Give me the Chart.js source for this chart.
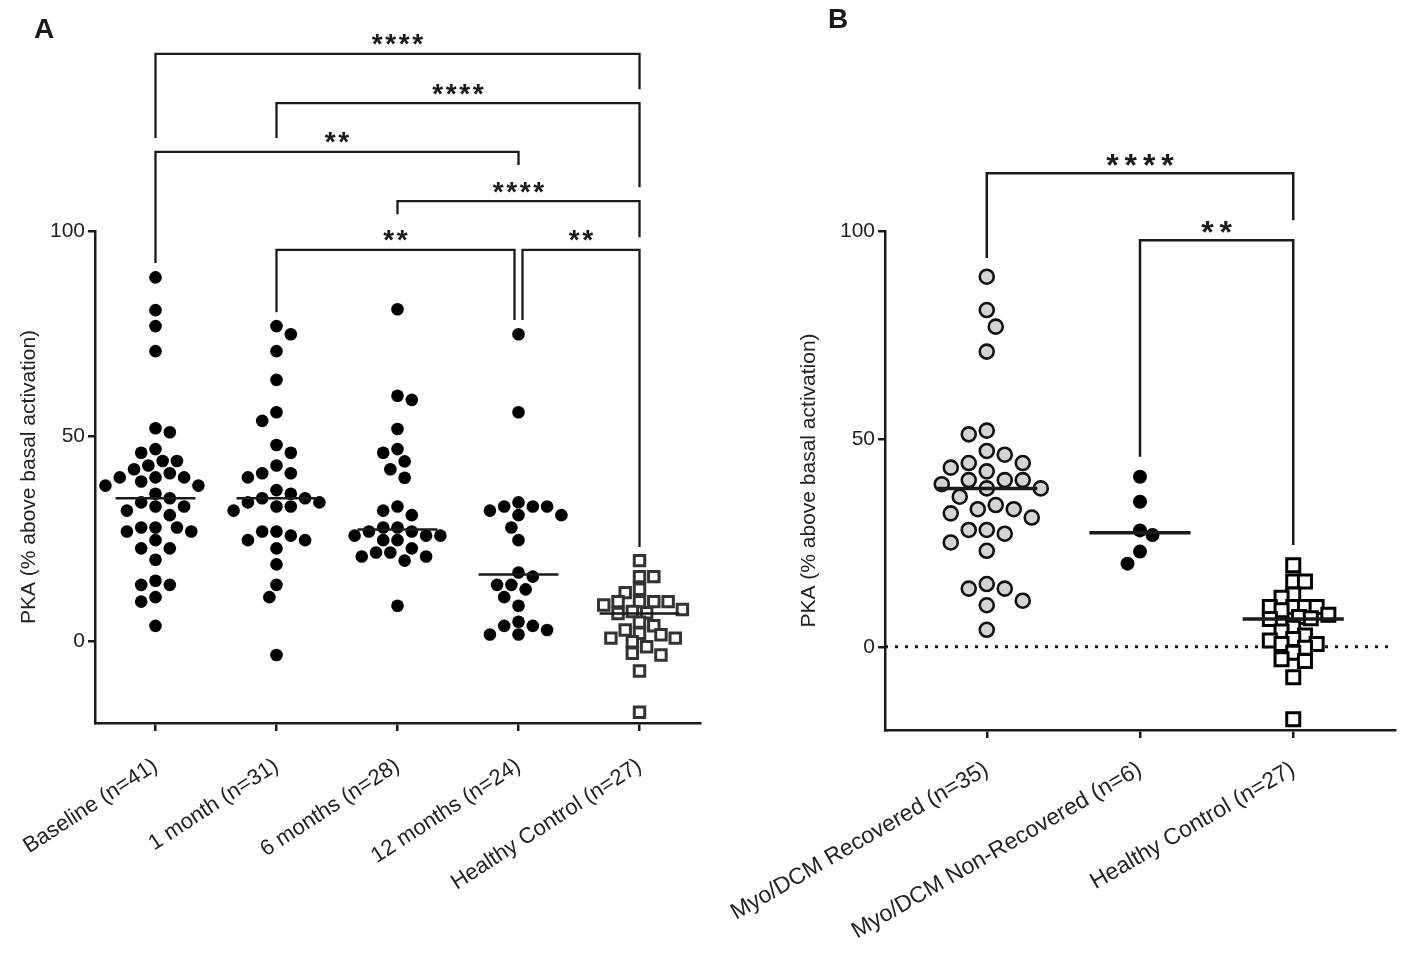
<!DOCTYPE html>
<html>
<head>
<meta charset="utf-8">
<script src="https://cdn.jsdelivr.net/npm/chart.js@4.4.1/dist/chart.umd.min.js"></script>
<style>
  html, body { margin: 0; padding: 0; background: #fff; width: 1418px; height: 957px; overflow: hidden; }
  #wrapA { position: absolute; left: 0; top: 0; width: 730px; height: 957px; }
  #wrapB { position: absolute; left: 700px; top: 0; width: 718px; height: 957px; }
  canvas { display: block; }
</style>
</head>
<body>
<div id="wrapA"><canvas id="cA" width="730" height="957" style="width:730px;height:957px"></canvas></div>
<div id="wrapB"><canvas id="cB" width="718" height="957" style="width:718px;height:957px"></canvas></div>
<script>
// ---------------- DATA ----------------
const categoriesA = ['Baseline (n=41)', '1 month (n=31)', '6 months (n=28)', '12 months (n=24)', 'Healthy Control (n=27)'];
const categoriesB = ['Myo/DCM Recovered (n=35)', 'Myo/DCM Non-Recovered (n=6)', 'Healthy Control (n=27)'];

const baseline = [88.7, 80.7, 76.8, 70.7, 51.9, 50.9, 46.8, 45.9, 42.8, 43.9, 43.9, 41.9, 39.9, 39.9, 40.9,
  38.9, 39.9, 37.9, 37.9, 35.9, 34.8, 33.8, 32.8, 31.8, 32.8, 30.7, 27.7, 26.7, 26.7, 27.7, 27.7, 24.6,
  22.6, 22.6, 19.8, 14.7, 13.7, 13.7, 10.7, 9.6, 3.7];
const month1 = [76.8, 74.8, 70.7, 63.7, 55.8, 53.7, 47.8, 45.9, 42.8, 40.9, 39.9, 40.9, 36.8, 34.8, 34.8,
  35.9, 33.8, 33.8, 32.8, 32.8, 31.8, 26.7, 26.7, 25.7, 24.6, 24.6, 22.6, 18.7, 13.7, 10.7, -3.4];
const month6 = [80.9, 59.8, 58.8, 51.7, 46.8, 45.9, 43.8, 41.9, 39.8, 32.8, 31.8, 30.7, 26.7, 27.7, 27.7,
  26.7, 24.6, 24.6, 25.7, 25.7, 25.7, 21.6, 20.6, 21.6, 22.6, 19.6, 20.6, 8.6];
const month12 = [74.8, 55.8, 32.8, 33.8, 32.8, 31.8, 32.8, 30.7, 30.7, 27.7, 24.6, 15.7, 16.7, 13.7, 12.6,
  13.7, 10.7, 8.6, 4.7, 1.6, 2.7, 3.7, 1.6, 3.7];
const healthyControl = [19.6, 15.7, 15.7, 12.6, 11.8, 9.6, 9.6, 9.6, 9.6, 8.8, 7.7, 7.2, 6.9, 6.7, 4.6,
  3.7, 2.7, 1.9, 1.5, 0.7, 0.7, -0.2, -1.4, -3.0, -3.4, -7.3, -17.4];
const recovered = [89.0, 81.0, 77.0, 71.0, 52.0, 51.1, 47.1, 46.2, 44.2, 44.2, 42.2, 43.1, 40.1, 40.1, 40.1,
  39.1, 38.1, 38.1, 36.1, 33.1, 34.1, 33.1, 32.1, 31.1, 28.1, 27.2, 28.1, 25.1, 23.1, 15.1, 14.0, 14.0,
  11.1, 10.0, 4.1];
const nonRecovered = [40.9, 34.9, 26.9, 28.0, 22.9, 20.0];

const yTicks = [0, 50, 100];
const yMin = -20, yMax = 100;

// significance brackets (group indices, bracket level and leg ends in y-axis units)
const bracketsA = [
  { a: 0, b: 4, level: 143.2, aEnd: 122.7, bEnd: 134.6, label: '****' },
  { a: 1, b: 4, level: 131.2, aEnd: 122.7, bEnd: 110.7, label: '****' },
  { a: 0, b: 3, level: 119.3, aEnd: 92.2, bEnd: 116.1, label: '**' },
  { a: 2, b: 4, level: 107.3, aEnd: 104.1, bEnd: 98.5, label: '****' },
  { a: 1, b: 3, level: 95.4, aEnd: 80.2, bEnd: 78.3, label: '**', bSide: -1 },
  { a: 3, b: 4, level: 95.4, aEnd: 78.3, bEnd: 22.9, label: '**', aSide: 1 }
];
const bracketsB = [
  { a: 0, b: 2, level: 113.9, aEnd: 93.5, bEnd: 102.6, label: '****' },
  { a: 1, b: 2, level: 97.8, aEnd: 45.7, bEnd: 24.5, label: '**' }
];

// ---------------- HELPERS ----------------
const FONT = '"Liberation Sans", Arial, Helvetica, sans-serif';
const INK = '#1a1a1a';

function median(arr) {
  const s = [...arr].sort((p, q) => p - q);
  const n = s.length;
  return n % 2 ? s[(n - 1) / 2] : (s[n / 2 - 1] + s[n / 2]) / 2;
}

// deterministic beeswarm layout computed in pixel space
function swarmOffsets(values, yScale, pxPerX, stepPx, minDist) {
  const order = values.map((v, i) => i).sort((p, q) => values[q] - values[p]);
  const placed = [];
  const off = new Array(values.length).fill(0);
  let balance = 0;
  for (const i of order) {
    const py = yScale.getPixelForValue(values[i]);
    let chosen = 0;
    outer:
    for (let m = 0; m < 100; m++) {
      const cands = m === 0 ? [0] : (balance > 0 ? [-m, m] : [m, -m]);
      for (const c of cands) {
        const px = c * stepPx / 2;
        if (placed.every(p => Math.hypot(p.px - px, p.py - py) >= minDist)) { chosen = px; break outer; }
      }
    }
    balance += Math.sign(chosen);
    placed.push({ px: chosen, py });
    off[i] = chosen / pxPerX;
  }
  return off;
}

function bracketPlugin(brackets, cfg) {
  return {
    id: 'brackets',
    afterDraw(chart) {
      const ctx = chart.ctx, xs = chart.scales.x, ys = chart.scales.y;
      ctx.save();
      ctx.strokeStyle = INK;
      ctx.fillStyle = INK;
      ctx.lineWidth = cfg.lineWidth;
      ctx.lineJoin = 'miter';
      for (const b of brackets) {
        const xa = xs.getPixelForValue(b.a) + (b.aSide || 0) * cfg.nudge;
        const xb = xs.getPixelForValue(b.b) + (b.bSide || 0) * cfg.nudge;
        const yl = ys.getPixelForValue(b.level);
        ctx.beginPath();
        ctx.moveTo(xa, ys.getPixelForValue(b.aEnd));
        ctx.lineTo(xa, yl);
        ctx.lineTo(xb, yl);
        ctx.lineTo(xb, ys.getPixelForValue(b.bEnd));
        ctx.stroke();
        ctx.font = 'bold ' + cfg.starSize + 'px ' + FONT;
        ctx.textAlign = 'center';
        ctx.textBaseline = 'alphabetic';
        const n = b.label.length, mid = (xa + xb) / 2;
        const base = yl - cfg.starAbove + 0.553 * cfg.starSize;
        for (let k = 0; k < n; k++) {
          ctx.fillText(b.label[k], mid + (k - (n - 1) / 2) * cfg.pitch, base);
        }
      }
      ctx.font = 'bold 28px ' + FONT;
      ctx.textAlign = 'left';
      ctx.fillText(cfg.letter, cfg.letterX, cfg.letterY);
      ctx.restore();
    }
  };
}

function buildChart(canvas, opt) {
  const datasets = [];
  opt.groups.forEach((g, i) => {
    datasets.push({
      data: g.values.map(v => ({ x: i, y: v })),
      pointStyle: g.style.shape,
      pointRadius: g.style.radius,
      pointBackgroundColor: g.style.fill,
      pointBorderColor: g.style.stroke,
      pointBorderWidth: g.style.borderWidth,
      showLine: false,
      order: 2
    });
  });
  opt.groups.forEach((g, i) => {
    const med = median(g.values);
    datasets.push({
      data: [{ x: i - opt.medianHalf, y: med }, { x: i + opt.medianHalf, y: med }],
      showLine: true, borderColor: INK, borderWidth: opt.medianWidth,
      pointRadius: 0, order: 0
    });
  });
  if (opt.zeroLine) {
    datasets.push({
      data: [{ x: opt.xMin, y: 0 }, { x: opt.xMax, y: 0 }],
      showLine: true, borderColor: INK, borderWidth: 3, borderDash: [3, 7],
      pointRadius: 0, order: 5
    });
  }
  const chart = new Chart(canvas, {
    type: 'scatter',
    data: { datasets },
    options: {
      responsive: false,
      animation: false,
      events: [],
      devicePixelRatio: window.devicePixelRatio || 1,
      layout: { padding: opt.padding },
      plugins: { legend: { display: false }, tooltip: { enabled: false } },
      scales: {
        x: {
          type: 'linear', min: opt.xMin, max: opt.xMax,
          afterBuildTicks: s => { s.ticks = opt.categories.map((c, i) => ({ value: i })); },
          afterFit: s => { s.height = opt.xHeight; s.paddingLeft = 0; s.paddingRight = 0; },
          grid: { display: true, drawOnChartArea: false, drawTicks: true, tickLength: 8, color: INK, lineWidth: 2.5 },
          border: { display: true, color: INK, width: 2.5 },
          ticks: {
            autoSkip: false, maxRotation: opt.rot, minRotation: opt.rot, padding: opt.xPad,
            color: '#222', font: { family: FONT, size: opt.xFont },
            callback: v => opt.categories[v] ?? ''
          }
        },
        y: {
          type: 'linear', min: yMin, max: yMax,
          afterBuildTicks: s => { s.ticks = yTicks.map(v => ({ value: v })); },
          afterFit: s => { s.width = opt.yWidth; s.paddingTop = 0; s.paddingBottom = 0; },
          grid: { display: true, drawOnChartArea: false, drawTicks: true, tickLength: 7, color: INK, lineWidth: 2.5 },
          border: { display: true, color: INK, width: 2.5 },
          ticks: { padding: 3, color: '#222', font: { family: FONT, size: 21 } },
          title: {
            display: true, text: 'PKA (% above basal activation)', color: '#222',
            font: { family: FONT, size: 21 }, padding: { top: opt.titlePad, bottom: 0 }
          }
        }
      }
    },
    plugins: [bracketPlugin(opt.brackets, opt.bracketCfg)]
  });
  // beeswarm placement using the chart's own scales
  const xs = chart.scales.x, ys = chart.scales.y;
  const pxPerX = xs.getPixelForValue(1) - xs.getPixelForValue(0);
  opt.groups.forEach((g, i) => {
    const off = swarmOffsets(g.values, ys, pxPerX, g.style.step, g.style.minDist);
    chart.data.datasets[i].data = g.values.map((v, k) => ({ x: i + off[k], y: v }));
  });
  chart.update('none');
  return chart;
}

// ---------------- PANEL A ----------------
const dotA = { shape: 'circle', radius: 6.3, fill: '#000', stroke: '#000', borderWidth: 0, step: 14.3, minDist: 12.5 };
const sqA = { shape: 'rect', radius: 7.4, fill: '#fff', stroke: '#333', borderWidth: 3, step: 14.3, minDist: 11 };
buildChart(document.getElementById('cA'), {
  categories: categoriesA,
  groups: [
    { values: baseline, style: dotA },
    { values: month1, style: dotA },
    { values: month6, style: dotA },
    { values: month12, style: dotA },
    { values: healthyControl, style: sqA }
  ],
  xMin: -0.5, xMax: 4.5,
  padding: { top: 231, left: 0, right: 30, bottom: 0 },
  xHeight: 234, yWidth: 95, titlePad: 17, rot: 33, xPad: 22, xFont: 22,
  medianHalf: 0.33, medianWidth: 2.5,
  zeroLine: false,
  brackets: bracketsA,
  bracketCfg: { lineWidth: 2.3, nudge: 4, starSize: 28, pitch: 13.5, starAbove: 16, letter: 'A', letterX: 34, letterY: 38 }
});

// ---------------- PANEL B ----------------
const dotRec = { shape: 'circle', radius: 7, fill: '#d4d4d4', stroke: '#111', borderWidth: 2.6, step: 18, minDist: 17 };
const dotNon = { shape: 'circle', radius: 7, fill: '#000', stroke: '#000', borderWidth: 0, step: 25, minDist: 13 };
const sqB = { shape: 'rect', radius: 9.2, fill: '#fff', stroke: '#000', borderWidth: 3, step: 11.7, minDist: 11 };
buildChart(document.getElementById('cB'), {
  categories: categoriesB,
  groups: [
    { values: recovered, style: dotRec },
    { values: nonRecovered, style: dotNon },
    { values: healthyControl, style: sqB }
  ],
  xMin: -0.664, xMax: 2.664,
  padding: { top: 231, left: 0, right: 23, bottom: 0 },
  xHeight: 227, yWidth: 185, titlePad: 97, rot: 30, xPad: 18, xFont: 23,
  medianHalf: 0.33, medianWidth: 3.5,
  zeroLine: true,
  brackets: bracketsB,
  bracketCfg: { lineWidth: 2.5, nudge: 0, starSize: 32, pitch: 18.3, starAbove: 15, letter: 'B', letterX: 128, letterY: 28 }
});
</script>
</body>
</html>
